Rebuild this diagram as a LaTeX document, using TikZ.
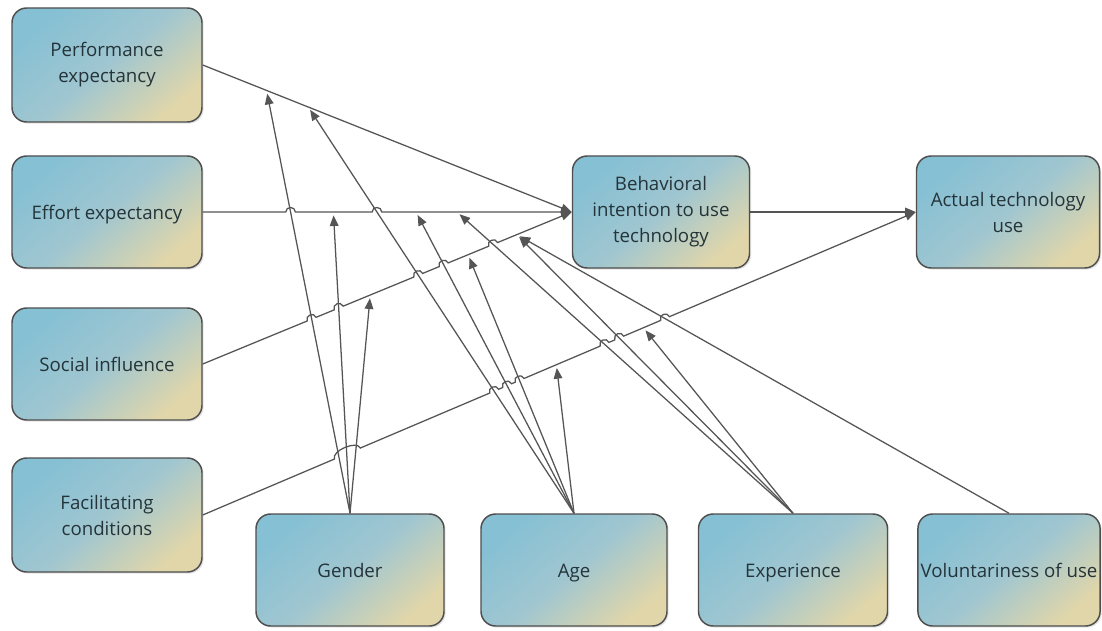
\documentclass[tikz,border=0pt]{standalone}
\usepackage{fontspec}
\setmainfont{Open Sans}
\usetikzlibrary{arrows.meta,calc,intersections,shadows}
\definecolor{boxtop}{RGB}{134,192,212}
\definecolor{boxmid}{RGB}{160,198,208}
\definecolor{boxbot}{RGB}{224,214,170}
\definecolor{boxline}{RGB}{78,78,78}
\definecolor{linkcol}{RGB}{85,85,85}
\definecolor{txt}{RGB}{36,52,58}
\begin{document}
\begin{tikzpicture}[x=0.75pt,y=0.75pt,
  factor/.style={draw=boxline, line width=1.1pt, rounded corners=11pt,
    top color=boxtop, bottom color=boxbot, middle color=boxmid, shading angle=40,
    drop shadow={opacity=0.22,shadow xshift=1.2pt,shadow yshift=-1.2pt},
    text=txt, font=\fontsize{14}{19.5}\selectfont, align=center,
    inner sep=2pt, minimum height=84pt},
  oneline/.style={text height=14pt, text depth=3pt},
  link/.style={draw=linkcol, line width=0.95pt, -{Triangle[length=8pt,width=6.5pt]}},
  moder/.style={link, shorten >=2.5pt},
  hop/.style={bend left=90, looseness=1.6}
]
\useasboundingbox[fill=white] (0,0) rectangle (1102,-631);

% factors
\node[factor, minimum width=142.5pt, minimum height=85.5pt] (PE) at (107,-65) {Performance\\expectancy};
\node[factor, oneline, minimum width=142.5pt] (EE) at (107,-212) {Effort expectancy};
\node[factor, oneline, minimum width=142.5pt] (SI) at (107,-364) {Social influence};
\node[factor, minimum width=142.5pt, minimum height=85.5pt] (FC) at (107,-515) {Facilitating\\conditions};
\node[factor, oneline, minimum width=141pt] (GE) at (350,-570) {Gender};
\node[factor, oneline, minimum width=139.5pt] (AG) at (574,-570) {Age};
\node[factor, oneline, minimum width=141.75pt] (EX) at (793,-570) {Experience};
\node[factor, oneline, minimum width=136.5pt] (VO) at (1009,-570) {Voluntariness of use};
\node[factor, minimum width=132.75pt] (BI) at (661,-212) {Behavioral\\intention to use\\technology};
\node[factor, minimum width=137.25pt] (AT) at (1008,-212) {Actual technology\\use};

% points where moderators meet the paths
\coordinate (pg) at ($(PE.east)!0.173!(BI.west)$);
\coordinate (pa) at ($(PE.east)!0.286!(BI.west)$);
\coordinate (eg) at ($(EE.east)!0.354!(BI.west)$);
\coordinate (ea) at ($(EE.east)!0.578!(BI.west)$);
\coordinate (ex) at ($(EE.east)!0.689!(BI.west)$);
\coordinate (sg) at ($(SI.east)!0.454!(BI.west)$);
\coordinate (sa) at ($(SI.east)!0.719!(BI.west)$);
\coordinate (sx) at ($(SI.east)!0.851!(BI.west)$);
\coordinate (fa) at ($(FC.east)!0.496!(AT.west)$);
\coordinate (fx) at ($(FC.east)!0.618!(AT.west)$);

% geometry for crossings
\path[name path=gPE] (GE.north) -- (pg);
\path[name path=gEE] (GE.north) -- (eg);
\path[name path=gSI] (GE.north) -- (sg);
\path[name path=aPE] (AG.north) -- (pa);
\path[name path=aEE] (AG.north) -- (ea);
\path[name path=aSI] (AG.north) -- (sa);
\path[name path=xEE] (EX.north) -- (ex);
\path[name path=xSI] (EX.north) -- (sx);
\path[name path=vSI] (VO.north) -- (sx);
\path[name path=lEE] (EE.east) -- (BI.west);
\path[name path=lSI] (SI.east) -- (BI.west);
\path[name path=lFC] (FC.east) -- (AT.west);

\path[name intersections={of=lEE and gPE,by=e1}];
\path[name intersections={of=lEE and aPE,by=e2}];
\path[name intersections={of=lSI and gPE,by=s1}];
\path[name intersections={of=lSI and gEE,by=s2}];
\path[name intersections={of=lSI and aPE,by=s3}];
\path[name intersections={of=lSI and aEE,by=s4}];
\path[name intersections={of=lSI and xEE,by=s5}];
\path[name intersections={of=lFC and gPE,by=f1}];
\path[name intersections={of=lFC and gSI,by=f3}];
\path[name intersections={of=lFC and aPE,by=f4}];
\path[name intersections={of=lFC and aEE,by=f5}];
\path[name intersections={of=lFC and aSI,by=f6}];
\path[name intersections={of=lFC and xEE,by=f7}];
\path[name intersections={of=lFC and xSI,by=f8}];
\path[name intersections={of=lFC and vSI,by=f9}];

% main paths, hopping over the moderator lines
\draw[link] (PE.east) -- (BI.west);
\draw[link] (EE.east)
  -- ($(e1)!3.6pt!(EE.east)$) to[hop] ($(e1)!3.6pt!(BI.west)$)
  -- ($(e2)!3.6pt!(EE.east)$) to[hop] ($(e2)!3.6pt!(BI.west)$)
  -- (BI.west);
\draw[link] (SI.east)
  -- ($(s1)!3.6pt!(SI.east)$) to[hop] ($(s1)!3.6pt!(BI.west)$)
  -- ($(s2)!3.6pt!(SI.east)$) to[hop] ($(s2)!3.6pt!(BI.west)$)
  -- ($(s3)!3.6pt!(SI.east)$) to[hop] ($(s3)!3.6pt!(BI.west)$)
  -- ($(s4)!3.6pt!(SI.east)$) to[hop] ($(s4)!3.6pt!(BI.west)$)
  -- ($(s5)!3.6pt!(SI.east)$) to[hop] ($(s5)!3.6pt!(BI.west)$)
  -- (BI.west);
\draw[link] (FC.east)
  -- ($(f1)!3.6pt!(FC.east)$) to[hop, looseness=0.8] ($(f3)!3.6pt!(AT.west)$)
  -- ($(f4)!3.6pt!(FC.east)$) to[hop] ($(f4)!3.6pt!(AT.west)$)
  -- ($(f5)!3.6pt!(FC.east)$) to[hop] ($(f5)!3.6pt!(AT.west)$)
  -- ($(f6)!3.6pt!(FC.east)$) to[hop] ($(f6)!3.6pt!(AT.west)$)
  -- ($(f7)!3.6pt!(FC.east)$) to[hop] ($(f7)!3.6pt!(AT.west)$)
  -- ($(f8)!3.6pt!(FC.east)$) to[hop] ($(f8)!3.6pt!(AT.west)$)
  -- ($(f9)!3.6pt!(FC.east)$) to[hop] ($(f9)!3.6pt!(AT.west)$)
  -- (AT.west);
\draw[link] (BI.east) -- (AT.west);

% moderators
\draw[moder] (GE.north) -- (pg);
\draw[moder] (GE.north) -- (eg);
\draw[moder] (GE.north) -- (sg);
\draw[moder] (AG.north) -- (pa);
\draw[moder] (AG.north) -- (ea);
\draw[moder] (AG.north) -- (sa);
\draw[moder] (AG.north) -- (fa);
\draw[moder] (EX.north) -- (ex);
\draw[moder] (EX.north) -- (sx);
\draw[moder] (EX.north) -- (fx);
\draw[moder] (VO.north) -- (sx);
\end{tikzpicture}
\end{document}
